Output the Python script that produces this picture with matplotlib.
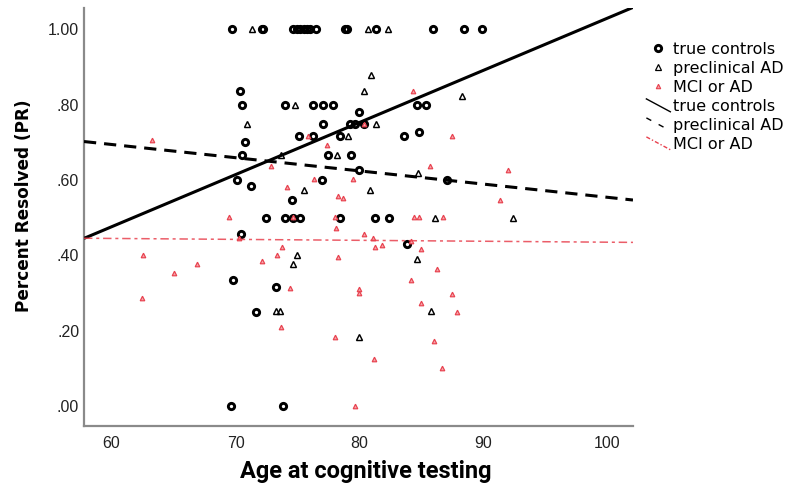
import matplotlib
matplotlib.use("Agg")
import matplotlib.pyplot as plt
import numpy as np
from matplotlib.lines import Line2D
from matplotlib.legend_handler import HandlerBase

# ---------------- data ----------------
tc_age = [69.7, 72.1, 72.2, 74.6, 75.0, 75.2, 75.5, 75.8, 76.0, 76.5, 78.8, 79.0, 81.3, 85.9, 88.4, 89.9,
          70.4,
          70.5, 74.0, 76.25, 77.05, 77.85, 84.6, 85.4,
          80.0,
          77.05, 79.2, 79.6, 80.35,
          75.1, 76.25, 78.4, 83.6,
          84.8,
          70.75,
          70.5, 77.45, 79.3,
          80.0,
          70.1, 76.95, 87.05,
          71.25,
          74.55,
          72.5, 74.0, 74.65, 75.2, 78.4, 81.25, 82.4,
          70.45,
          83.8,
          69.8,
          73.3,
          71.65,
          69.6, 73.8]
tc_pr = [1.0] * 16 + [0.837] + [0.80] * 7 + [0.78] + [0.75] * 4 + [0.716] * 4 + [0.728] + [0.70] + \
        [0.667] * 3 + [0.627] + [0.60] * 3 + [0.584] + [0.547] + [0.50] * 7 + [0.456] + [0.429] + \
        [0.335] + [0.316] + [0.25] + [0.0] * 2

pc_age = [71.35, 80.7, 82.3, 80.9, 80.35, 88.3, 74.8, 70.9, 81.35, 79.1, 73.65, 78.2, 84.7,
          75.5, 80.85, 86.1, 92.4, 74.95, 74.6, 84.6, 73.3, 73.6, 85.75, 80.0]
pc_pr = [1.0, 1.0, 1.0, 0.878, 0.837, 0.822, 0.80, 0.75, 0.75, 0.718, 0.667, 0.667, 0.618,
         0.574, 0.574, 0.50, 0.50, 0.401, 0.377, 0.390, 0.252, 0.252, 0.252, 0.183]

mci_age = [63.25, 75.85, 77.4, 72.85, 76.3, 79.45, 74.15, 78.25, 78.65, 69.5, 74.65, 78.0, 78.1,
           70.3, 62.55, 66.9, 65.05, 72.15, 73.35, 73.75, 78.25, 80.35, 84.3, 87.45, 85.65, 92.0,
           91.35, 84.4, 84.8, 86.75, 80.35, 81.1, 81.25, 81.8, 84.15, 85.0, 86.25, 84.15, 74.4,
           62.45, 73.65, 78.0, 79.95, 80.0, 87.45, 85.0, 87.85, 86.05, 81.15, 86.65, 79.65]
mci_pr = [0.707, 0.716, 0.693, 0.638, 0.602, 0.602, 0.581, 0.558, 0.552, 0.501, 0.501, 0.501, 0.472,
          0.445, 0.401, 0.376, 0.353, 0.386, 0.401, 0.423, 0.396, 0.750, 0.837, 0.717, 0.638, 0.627,
          0.547, 0.502, 0.502, 0.502, 0.456, 0.445, 0.423, 0.427, 0.438, 0.418, 0.365, 0.336, 0.313,
          0.287, 0.210, 0.183, 0.311, 0.301, 0.297, 0.274, 0.250, 0.173, 0.126, 0.101, 0.0]

# fit lines: (intercept, slope)
fit_tc = (-0.355, 0.01385)
fit_pc = (0.905, -0.003507)
fit_mci = (0.460, -0.000249)

labels = ["true controls", "preclinical AD", "MCI or AD"]
x_ticks = [60, 70, 80, 90, 100]
y_ticks = [0.0, 0.2, 0.4, 0.6, 0.8, 1.0]
x_lim = (57.78, 102.06)
y_lim = (-0.053, 1.057)

RED = "#e8414e"
RED_FILL = "#f5a3aa"
TICK_FONT = ["Liberation Sans", "DejaVu Sans"]


class HandlerDiag(HandlerBase):
    """Legend handler drawing a short descending diagonal line."""
    def create_artists(self, legend, orig_handle, xdescent, ydescent, width, height, fontsize, trans):
        line = Line2D([-xdescent, -xdescent + width],
                      [-ydescent + height * 1.05, -ydescent - height * 0.1])
        line.update_from(orig_handle)
        line.set_transform(trans)
        return [line]


# ---------------- figure ----------------
fig = plt.figure(figsize=(7.97, 4.90), dpi=100)
ax = fig.add_axes([0.1054, 0.1306, 0.6888, 0.8531])

ax.plot(tc_age, tc_pr, linestyle="none", marker="o", markersize=4.5, markerfacecolor="none",
        markeredgecolor="black", markeredgewidth=2.1, zorder=3)
ax.plot(pc_age, pc_pr, linestyle="none", marker="^", markersize=5.0, markerfacecolor="none",
        markeredgecolor="black", markeredgewidth=1.05, zorder=3)
ax.plot(mci_age, mci_pr, linestyle="none", marker="^", markersize=3.3, markerfacecolor=RED_FILL,
        markeredgecolor=RED, markeredgewidth=0.85, zorder=3)

xs = np.array(x_lim)
ax.plot(xs, fit_tc[0] + fit_tc[1] * xs, color="black", lw=2.2, zorder=4, solid_capstyle="butt")
ax.plot(xs, fit_pc[0] + fit_pc[1] * xs, color="black", lw=2.2, linestyle=(0, (4, 2.6)), zorder=4)
ax.plot(xs, fit_mci[0] + fit_mci[1] * xs, color=RED, lw=1.1, linestyle=(0, (5.5, 2.5, 2, 2.5)),
        zorder=4, alpha=0.85)

ax.set_xlim(*x_lim)
ax.set_ylim(*y_lim)
ax.set_xticks(x_ticks)
ax.set_yticks(y_ticks)
ax.set_yticklabels([f"{v:.2f}".lstrip("0") if v < 1 else f"{v:.2f}" for v in y_ticks])
ax.tick_params(length=0, labelsize=11.5)
ax.tick_params(axis="x", pad=7)
ax.tick_params(axis="y", pad=3.5)
for lab in ax.get_xticklabels() + ax.get_yticklabels():
    lab.set_family(TICK_FONT)
    lab.set_color("#222222")

for s in ["top", "right"]:
    ax.spines[s].set_visible(False)
for s in ["left", "bottom"]:
    ax.spines[s].set_color("#8a8a8a")
    ax.spines[s].set_linewidth(1.6)

ax.set_xlabel("Age at cognitive testing", fontsize=17, fontweight="bold",
              family=["Roboto", "DejaVu Sans"])
ax.xaxis.set_label_coords(0.513, -0.082)
ax.set_ylabel("Percent Resolved (PR)", fontsize=12.2, fontweight="bold", family="DejaVu Sans")
ax.yaxis.set_label_coords(-0.092, 0.526)

handles = [
    Line2D([], [], linestyle="none", marker="o", markersize=4.5, markerfacecolor="none",
           markeredgecolor="black", markeredgewidth=2.1),
    Line2D([], [], linestyle="none", marker="^", markersize=4.2, markerfacecolor="none",
           markeredgecolor="black", markeredgewidth=0.9),
    Line2D([], [], linestyle="none", marker="^", markersize=3.2, markerfacecolor=RED_FILL,
           markeredgecolor=RED, markeredgewidth=0.8),
    Line2D([], [], color="black", lw=1.0),
    Line2D([], [], color="black", lw=1.0, linestyle=(0, (4, 6))),
    Line2D([], [], color=RED, lw=1.0, linestyle=(0, (3, 1.5, 1, 1.5))),
]
hmap = {h: HandlerDiag() for h in handles[3:]}
leg = fig.legend(handles, labels + labels, loc="upper left", bbox_to_anchor=(0.803, 0.928),
                 frameon=False, fontsize=11.5, handlelength=1.5, handletextpad=0.15,
                 labelspacing=0.25, borderaxespad=0, handler_map=hmap)

fig.savefig("out.png", dpi=100)
